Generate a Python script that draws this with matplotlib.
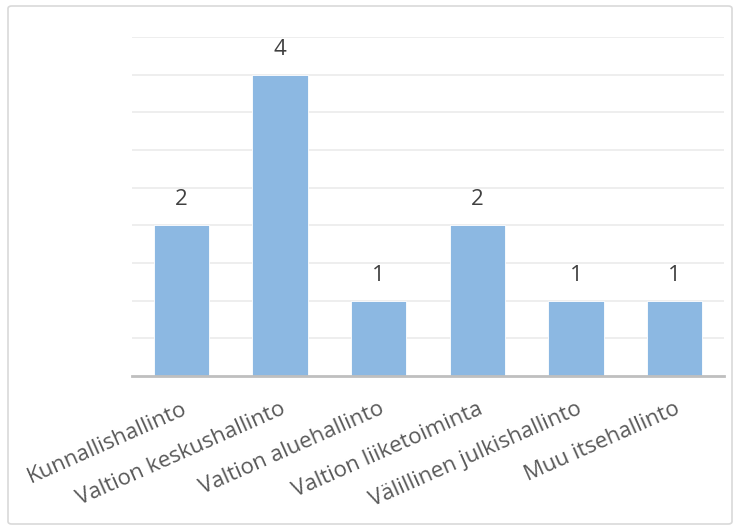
import matplotlib
matplotlib.use('Agg')
import matplotlib.pyplot as plt
from matplotlib.patches import FancyBboxPatch

# data
categories = ['Kunnallishallinto', 'Valtion keskushallinto', 'Valtion aluehallinto',
              'Valtion liiketoiminta', 'Välillinen julkishallinto', 'Muu itsehallinto']
values = [2, 4, 1, 2, 1, 1]

plt.rcParams['font.family'] = ['Open Sans', 'DejaVu Sans']

fig = plt.figure(figsize=(7.4, 5.28), dpi=100)
ax = fig.add_axes([132 / 740, 1 - 376 / 528, 592 / 740, (376 - 37) / 528])

x = range(len(categories))
ax.bar(x, values, width=0.56, color='#8cb8e2', edgecolor='white', linewidth=0.6, zorder=2)

for i, v in zip(x, values):
    ax.text(i, v + 0.2, str(v), ha='center', va='bottom', fontsize=16, color='#404040')

ax.set_xlim(-0.5, len(categories) - 0.5)
ax.set_ylim(0, 4.5)
ax.set_yticks([0.5 * k for k in range(1, 10)])
ax.yaxis.grid(True, color='#ebebeb', linewidth=1.2, zorder=0)
ax.tick_params(axis='y', left=False, labelleft=False)
ax.tick_params(axis='x', length=0, pad=16)
ax.set_xticks(list(x))
ax.set_xticklabels(categories, rotation=24, ha='right', rotation_mode='anchor',
                   fontsize=16, color='#595959')
for s in ['top', 'right', 'left']:
    ax.spines[s].set_visible(False)
ax.spines['bottom'].set_color('#bfbfbf')
ax.spines['bottom'].set_linewidth(2)
ax.spines['bottom'].set_zorder(3)

# outer chart border
border = FancyBboxPatch((8 / 740, 4 / 528), 724 / 740, 518 / 528,
                        boxstyle='round,pad=0,rounding_size=0.005',
                        transform=fig.transFigure, fill=False,
                        edgecolor='#d9d9d9', linewidth=1.2)
fig.patches.append(border)

fig.savefig('out.png', dpi=100)
